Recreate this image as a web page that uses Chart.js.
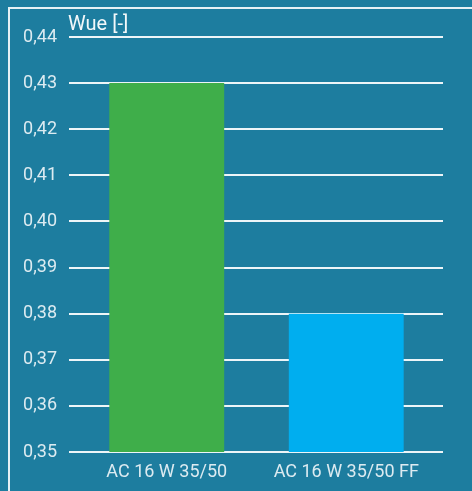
<!DOCTYPE html>
<html>
<head>
<meta charset="utf-8">
<script src="https://cdn.jsdelivr.net/npm/chart.js@4/dist/chart.umd.min.js"></script>
<style>
  html, body { margin: 0; padding: 0; background: #1d7d9f; }
  #wrap { position: relative; width: 472px; height: 491px; background: #1d7d9f; }
  #frame { position: absolute; left: 8px; top: 7px; right: 0; bottom: 0;
           border-top: 2px solid #e6f1f5; border-left: 2px solid #e6f1f5; }
  canvas { position: absolute; left: 0; top: 0; }
</style>
</head>
<body>
<div id="wrap">
  <div id="frame"></div>
  <canvas id="c" width="472" height="491"></canvas>
</div>
<script>
const categories = ["AC 16 W 35/50", "AC 16 W 35/50 FF"];
const wueValues = [0.43, 0.38];
const barColors = ["#3fae4a", "#00aeef"];
const axisTitle = "Wue [-]";
const yMin = 0.35, yMax = 0.44, yStep = 0.01;

const textColor = "#dcebf1";
const fontFamily = "Roboto, 'Open Sans', sans-serif";

// Horizontal guide lines run a little past the plot on both sides
const gridPlugin = {
  id: "wideGrid",
  beforeDatasetsDraw(chart) {
    const { ctx, chartArea, scales } = chart;
    ctx.save();
    ctx.strokeStyle = "rgba(255,255,255,0.92)";
    ctx.lineWidth = 2;
    scales.y.ticks.forEach(t => {
      const y = Math.round(scales.y.getPixelForValue(t.value));
      ctx.beginPath();
      ctx.moveTo(chartArea.left - 8, y);
      ctx.lineTo(chartArea.right + 7, y);
      ctx.stroke();
    });
    ctx.restore();
  }
};

const axisTitlePlugin = {
  id: "axisTitle",
  afterDraw(chart) {
    const ctx = chart.ctx;
    ctx.save();
    ctx.fillStyle = "#f2f8fa";
    ctx.font = "20px " + fontFamily;
    ctx.textAlign = "left";
    ctx.textBaseline = "alphabetic";
    ctx.fillText(axisTitle, chart.chartArea.left - 9, chart.chartArea.top - 7);
    ctx.restore();
  }
};

new Chart(document.getElementById("c"), {
  type: "bar",
  data: {
    labels: categories,
    datasets: [{
      data: wueValues,
      backgroundColor: barColors,
      borderWidth: 0,
      categoryPercentage: 1,
      barPercentage: 0.64
    }]
  },
  options: {
    responsive: false,
    animation: false,
    layout: { padding: { left: 0, right: 36, top: 37, bottom: 0 } },
    plugins: { legend: { display: false }, tooltip: { enabled: false } },
    scales: {
      x: {
        grid: { display: false, drawTicks: false },
        border: { display: false },
        ticks: { color: textColor, font: { family: fontFamily, size: 18 }, padding: 10 },
        afterFit(scale) { scale.height = 39; }
      },
      y: {
        min: yMin,
        max: yMax,
        grid: { display: false, drawTicks: false },
        border: { display: false },
        ticks: {
          stepSize: yStep,
          color: textColor,
          font: { family: fontFamily, size: 18 },
          padding: 20,
          callback: v => v.toFixed(2).replace(".", ",")
        },
        afterFit(scale) { scale.width = 77; }
      }
    }
  },
  plugins: [gridPlugin, axisTitlePlugin]
});
</script>
</body>
</html>
